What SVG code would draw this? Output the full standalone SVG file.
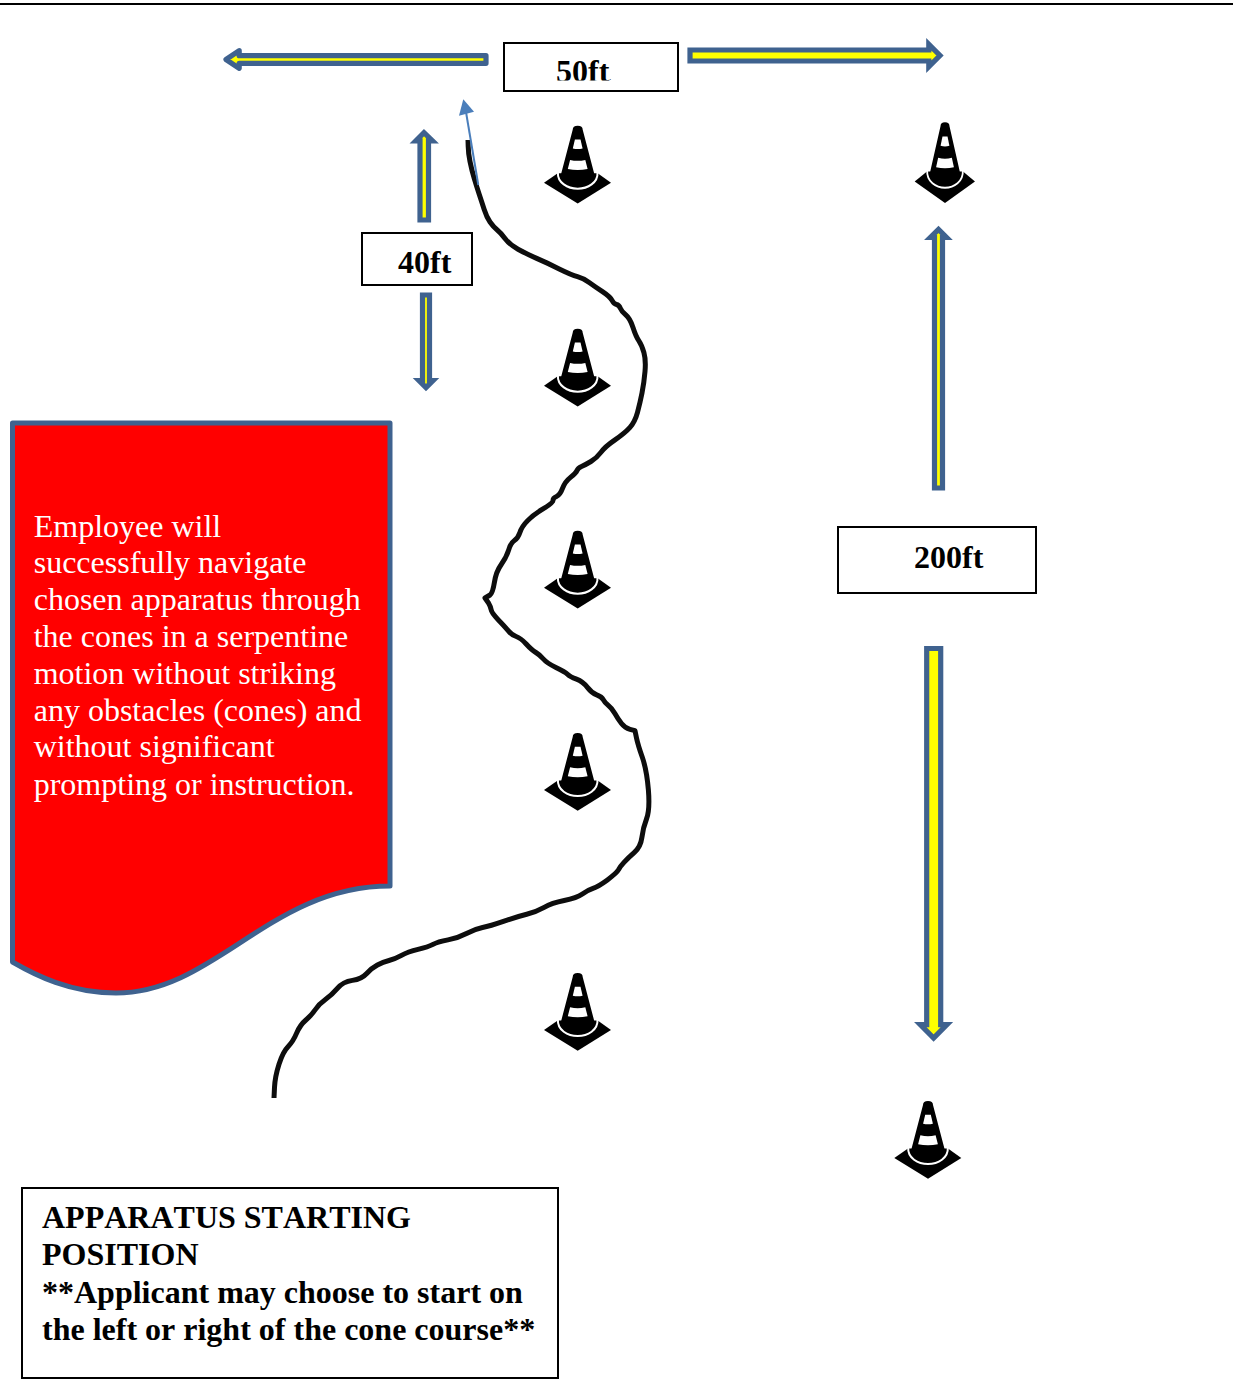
<svg xmlns="http://www.w3.org/2000/svg" width="1233" height="1400" viewBox="0 0 1233 1400">
<style>
text{font-family:"Liberation Serif","Times New Roman",serif}
.box{fill:#fff;stroke:#000;stroke-width:2}
.lbl{font-size:32px;font-weight:bold;fill:#000}
.arr{fill:#ffff00;stroke:#3f628f;stroke-width:5.2;stroke-miterlimit:8}
.body{font-size:32px;fill:#fff}
.note{font-size:32px;font-weight:bold;fill:#000;font-kerning:none}
</style>
<defs>
<clipPath id="clip50"><rect x="504" y="43" width="174" height="37.5"/></clipPath>
<g id="cone">
<path d="M-33.7 57L-20 47.5L20 47.5L33.3 57L0 77.7Z" fill="#000"/>
<path d="M-5 4Q-5 0 0 0Q5 0 5 4L17.6 52A17.6 9 0 0 1 -17.6 52Z" fill="#000"/>
<path d="M-19.8 46.5C-20.5 57 -10 63 0 63C10 63 20.5 57 19.8 46.5" fill="none" stroke="#fff" stroke-width="2"/>
<path d="M-2.8 13.7H2.8L4.9 22.7Q0 23.8 -4.9 22.7Z" fill="#fff"/>
<path d="M-7.6 34.3Q0 36 7.6 34.3L9.9 43.3Q0 45.4 -9.9 43.3Z" fill="#fff"/>
</g>
</defs>
<rect width="1233" height="1400" fill="#fff"/>
<rect id="top-rule" x="0" y="3" width="1233" height="2" fill="#000"/>
<g id="note-red">
<path d="M12.5 423H390V886C270 886 215 993 116 993C70 993 35 975 12.5 962Z" fill="#ff0000" stroke="#3f628f" stroke-width="5" stroke-linejoin="round"/>
<text class="body" x="33.7" y="537">Employee will</text>
<text class="body" x="33.7" y="573">successfully navigate</text>
<text class="body" x="33.7" y="610">chosen apparatus through</text>
<text class="body" x="33.7" y="647">the cones in a serpentine</text>
<text class="body" x="33.7" y="684">motion without striking</text>
<text class="body" x="33.7" y="721">any obstacles (cones) and</text>
<text class="body" x="33.7" y="757">without significant</text>
<text class="body" x="33.7" y="795">prompting or instruction.</text>
</g>
<g id="box-50ft"><rect class="box" x="504" y="43" width="174" height="48"/><text class="lbl" x="556" y="82" clip-path="url(#clip50)">50ft<tspan font-size="8" font-weight="normal" dy="-2">.</tspan></text></g>
<g id="box-40ft"><rect class="box" x="362" y="233" width="110" height="52"/><text class="lbl" x="398" y="273">40ft</text></g>
<g id="box-200ft"><rect class="box" x="838" y="527" width="198" height="66"/><text class="lbl" x="914" y="568">200ft</text></g>
<g id="box-start"><rect class="box" x="22" y="1188" width="536" height="190"/>
<text class="note" x="42" y="1228">APPARATUS STARTING</text>
<text class="note" x="42" y="1265">POSITION</text>
<text class="note" x="42" y="1303">**Applicant may choose to start on</text>
<text class="note" x="42" y="1340">the left or right of the cone course**</text>
</g>
<g id="cone-1"><use href="#cone" transform="translate(577.7 125.7)"/></g>
<g id="cone-2"><use href="#cone" transform="translate(577.7 328.7)"/></g>
<g id="cone-3"><use href="#cone" transform="translate(577.7 530.7)"/></g>
<g id="cone-4"><use href="#cone" transform="translate(577.7 733)"/></g>
<g id="cone-5"><use href="#cone" transform="translate(577.7 973)"/></g>
<g id="cone-6"><use href="#cone" transform="translate(945 122.2) scale(.9 1.04)"/></g>
<g id="cone-7"><use href="#cone" transform="translate(928 1101)"/></g>
<g id="connectors">
<path class="arr" stroke-linejoin="round" d="M486 55.7H239.2V50.7L226 59.5L239.2 68.3V63.3H486Z"/>
<path class="arr" d="M690 50H928.8V44.3L940 55.5L928.8 66.7V61H690Z"/>
<path class="arr" d="M420 220V140.8H415.8L424 132.6L432.5 140.8H428.5V220Z"/>
<path class="arr" d="M422.5 295H429.5V380.5H433L426 387.5L419 380.5H422.5Z"/>
<path class="arr" d="M934.5 488V237.5H930.4L938.5 229.5L946.5 237.5H942.5V488Z"/>
<path class="arr" d="M926.7 648.5H940.7V1024.7H946.9L933.6 1038L920.3 1024.7H926.7Z"/>
<path id="serpentine" fill="none" stroke="#0d0d0d" stroke-width="5" stroke-linejoin="round" d="M468 140L468.2 146.5Q468.3 153 470 161.5Q471.7 170 474.2 178.4Q476.7 186.7 479.2 194.2Q481.7 201.7 484.2 209.5Q486.7 217.3 490 222Q493.3 226.7 497 229.7Q500.7 232.7 505 238.5Q509.3 244.3 518 249.2Q526.7 254 536.7 258.4Q546.7 262.7 559.2 268.9Q571.7 275 577.5 276.7Q583.3 278.3 589.2 282.5Q595 286.7 602.5 291.7Q610 296.7 612 300.4Q614 304 616.5 304.5Q619 305 620.4 308.4Q621.7 311.7 625.9 315Q630 318.3 633 327.5Q636 336.7 638.9 340.9Q641.7 345 643.9 352.5Q646 360 645 371.5Q644 383 642 393Q640 403 637.5 412.4Q635 421.7 630 427.4Q625 433 615 439.9Q605 446.7 600.9 452.4Q596.7 458 590.9 461.5Q585 465 581.5 466.5Q578 468 577 470.5Q576 473 570.5 477.4Q565 481.7 562.5 488.4Q560 495 556.5 496.5Q553 498 553 500.4Q553 502.7 543 508.9Q533 515 527.4 520.9Q521.7 526.7 519.9 532.4Q518 538 514.4 540.5Q510.7 543 508.7 549.9Q506.7 556.7 501.4 564.2Q496 571.7 494.4 582.4Q492.7 593 490 595L485 598L488.5 603Q490.7 606.7 491.2 609.9Q491.7 613 498.4 619.9Q505 626.7 508.4 630.9Q511.7 635 516.2 636.5Q520.7 638 526.2 644Q531.7 650 535.9 652.5Q540 655 543.4 659Q546.7 663 555.9 667.4Q565 671.7 567.5 674.2Q570 676.7 576.5 679.2Q583 681.7 587.4 687.4Q591.7 693 596.7 694.9Q601.7 696.7 603.4 699.9Q605 703 608.4 705.5Q611.7 708 614.9 713.5Q618 719 621.5 723.5Q625 728 630 729.4L635 730.7L636.5 737.9Q638 745 642.4 757.5Q646.7 770 648.4 790Q650 810 646.5 819Q643 828 641.9 837.4Q640.7 846.7 634.4 852.4Q628 858 624 862.4Q620 866.7 618.4 869.9Q616.7 873 607.4 879.9Q598 886.7 593 888.4Q588 890 582.4 894Q576.7 898 564.2 900.5Q551.7 903 544.2 907.4Q536.7 911.7 526.7 914.2Q516.7 916.7 503.4 921.4Q490 926 482.5 927.5Q475 929 466.5 933.5Q458 938 448 939.9Q438 941.7 433 944.4Q428 947 418 949.4Q408 951.7 401.5 955.4Q395 959 389 960.5Q383 962 377.4 965Q371.7 968 366.7 973.5Q361.7 979 352.4 980.4Q343 981.7 337.4 988.4Q331.7 995 325.4 999.5Q319 1004 315.4 1009.5Q311.7 1015 305.9 1020Q300 1025 296.5 1033.4Q293 1041.7 288 1046.7Q283 1051.7 279 1064.2Q275 1076.7 274.5 1087.4L274 1098"/>
<line x1="478.3" y1="185" x2="466" y2="112" stroke="#4a7ebb" stroke-width="2"/>
<polygon points="463.3,99.3 474,111.7 459,115.7" fill="#4a7ebb"/>
</g>
</svg>
